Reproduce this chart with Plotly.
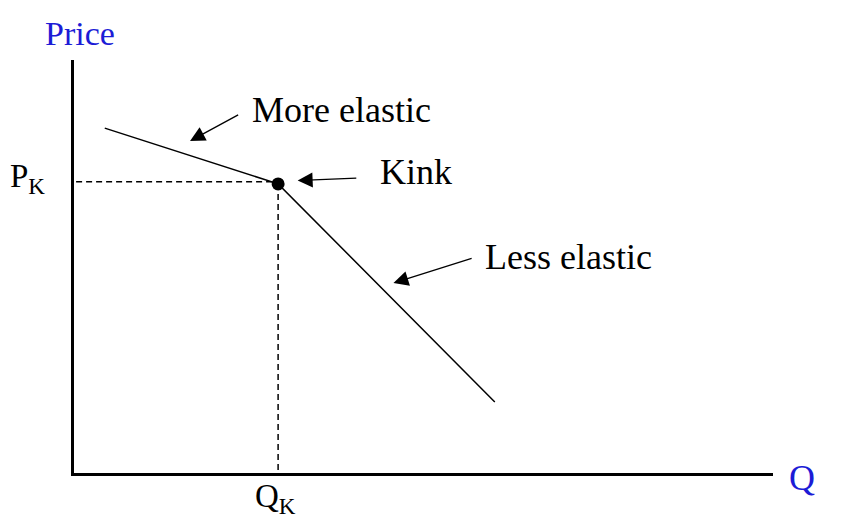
import plotly.graph_objects as go

# Data (Q in arbitrary units 0..10, P in arbitrary units 0..10)
demand_q = [0.44, 2.92, 6.02]
demand_p = [8.35, 7.0, 1.72]
kink_q = 2.92
kink_p = 7.0

labels = ["More elastic", "Kink", "Less elastic"]
label_q = [3.83, 4.89, 7.07]
label_p = [8.79, 7.29, 5.23]
arrow_tail_q = [2.37, 4.06, 5.71]
arrow_tail_p = [8.69, 7.14, 5.21]
arrow_head_q = [1.66, 3.2, 4.57]
arrow_head_p = [8.04, 7.08, 4.6]

axis_labels = ["P<sub>K</sub>", "Q<sub>K</sub>", "Price", "Q"]
axis_label_q = [-0.67, 2.88, 0.09, 10.41]
axis_label_p = [7.14, -0.62, 10.65, -0.12]

FONT = "Liberation Serif"
BLUE = "#1c1cd6"
Q_MAX = 10
P_MAX = 10

fig = go.Figure()
# dashed guides
fig.add_trace(go.Scatter(x=[0.03, kink_q], y=[kink_p + 0.05, kink_p + 0.05], mode="lines",
                         line=dict(color="black", width=1.5, dash="6px,4px"), hoverinfo="skip"))
fig.add_trace(go.Scatter(x=[kink_q, kink_q], y=[kink_p, 0], mode="lines",
                         line=dict(color="black", width=1.5, dash="6px,4px"), hoverinfo="skip"))
# demand curve
fig.add_trace(go.Scatter(x=demand_q, y=demand_p, mode="lines",
                         line=dict(color="black", width=1.5), hoverinfo="skip"))
# kink point
fig.add_trace(go.Scatter(x=[kink_q], y=[kink_p], mode="markers",
                         marker=dict(color="black", size=13), hoverinfo="skip"))

for t, lq, lp, tq, tp, hq, hp in zip(labels, label_q, label_p, arrow_tail_q, arrow_tail_p, arrow_head_q, arrow_head_p):
    fig.add_annotation(x=lq, y=lp, text=t, showarrow=False, xanchor="center", yanchor="middle",
                       font=dict(family=FONT, size=36, color="black"))
    fig.add_annotation(x=hq, y=hp, ax=tq, ay=tp, xref="x", yref="y", axref="x", ayref="y",
                       text="", showarrow=True, arrowhead=2, arrowsize=2.3, arrowwidth=1.3, arrowcolor="black")

colors = ["black", "black", BLUE, BLUE]
sizes = [33, 33, 34, 36]
for t, q, p, c, s in zip(axis_labels, axis_label_q, axis_label_p, colors, sizes):
    fig.add_annotation(x=q / Q_MAX, y=p / P_MAX, xref="paper", yref="paper", text=t, showarrow=False,
                       xanchor="center", yanchor="middle",
                       font=dict(family=FONT, size=s, color=c))

fig.update_xaxes(range=[0, Q_MAX], showline=True, linecolor="black", linewidth=2.5,
                 showgrid=False, zeroline=False, showticklabels=False, ticks="")
fig.update_yaxes(range=[0, P_MAX], showline=True, linecolor="black", linewidth=2.5,
                 showgrid=False, zeroline=False, showticklabels=False, ticks="")
fig.update_layout(width=856, height=526, margin=dict(l=74, r=83, t=60, b=53),
                  plot_bgcolor="white", paper_bgcolor="white", showlegend=False)

fig.write_html("out.html")
